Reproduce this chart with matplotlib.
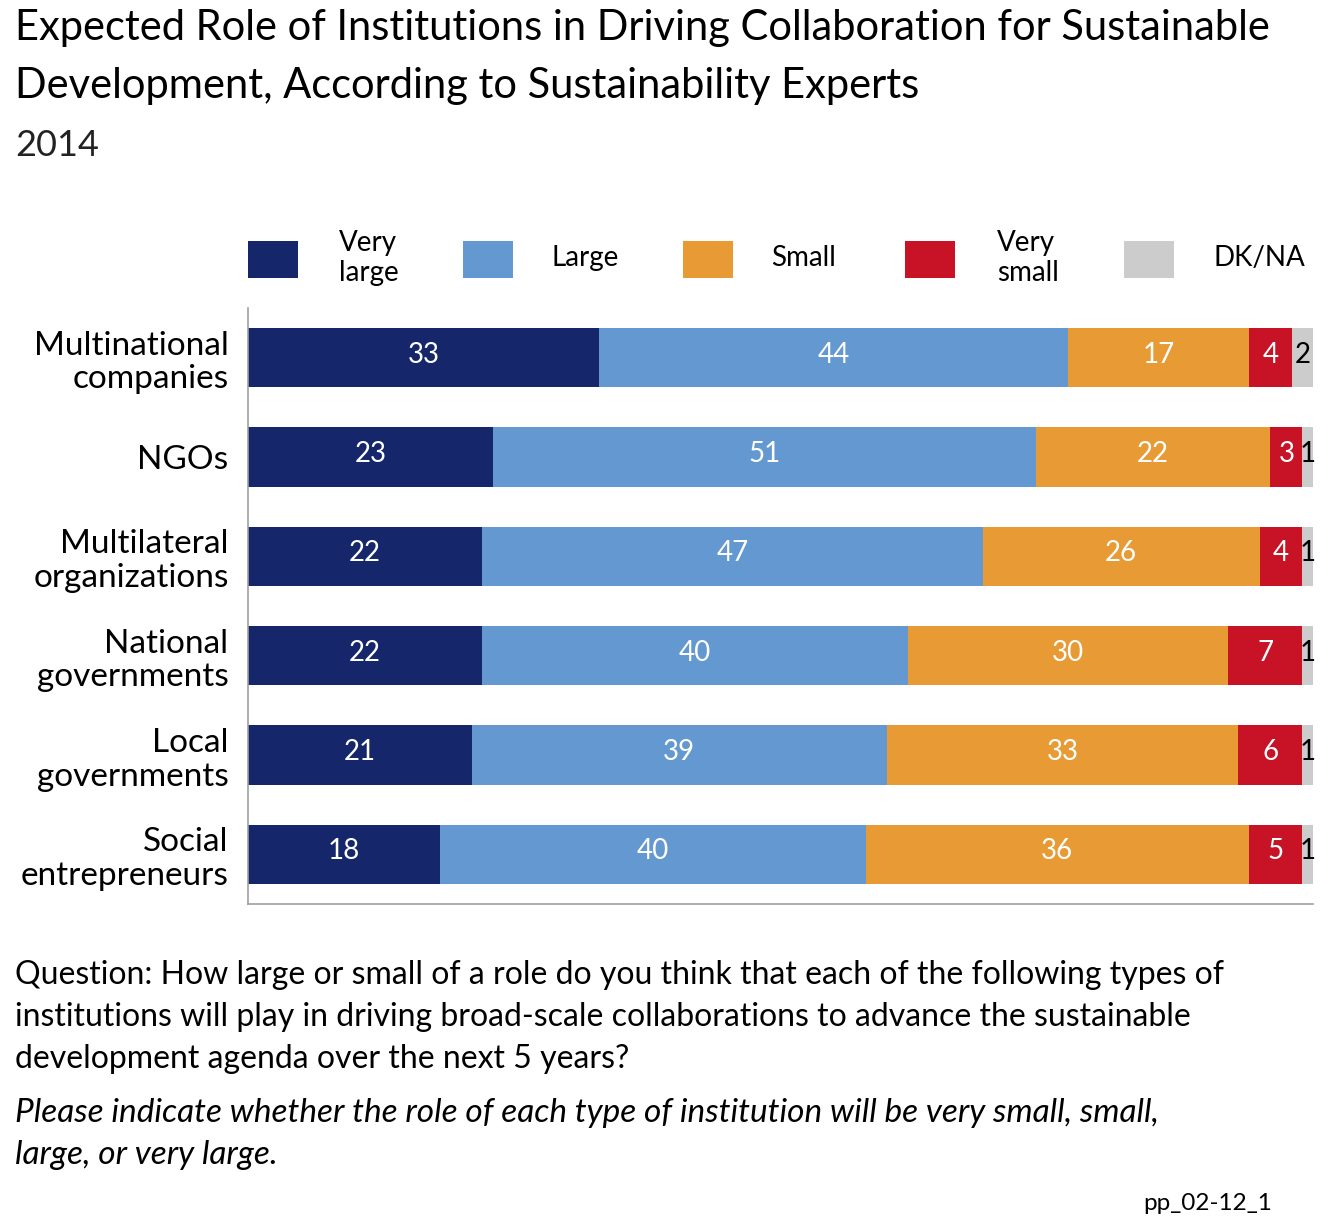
import matplotlib
matplotlib.use("Agg")
import matplotlib.pyplot as plt
from matplotlib.patches import Rectangle
import numpy as np

plt.rcParams['font.family'] = ['Lato', 'DejaVu Sans']

categories = ["Multinational\ncompanies", "NGOs", "Multilateral\norganizations",
              "National\ngovernments", "Local\ngovernments", "Social\nentrepreneurs"]
series_names = ["Very\nlarge", "Large", "Small", "Very\nsmall", "DK/NA"]
very_large = [33, 23, 22, 22, 21, 18]
large = [44, 51, 47, 40, 39, 40]
small = [17, 22, 26, 30, 33, 36]
very_small = [4, 3, 4, 7, 6, 5]
dk_na = [2, 1, 1, 1, 1, 1]
colors = ["#15266a", "#6399d0", "#e89b34", "#c81226", "#cccccc"]
text_colors = ["white", "white", "white", "white", "black"]

series = [very_large, large, small, very_small, dk_na]

title_lines = ["Expected Role of Institutions in Driving Collaboration for Sustainable",
               "Development, According to Sustainability Experts"]
question_lines = ["Question: How large or small of a role do you think that each of the following types of",
                  "institutions will play in driving broad-scale collaborations to advance the sustainable",
                  "development agenda over the next 5 years?"]
note_lines = ["Please indicate whether the role of each type of institution will be very small, small,",
              "large, or very large."]

W, H = 1340, 1223
fig = plt.figure(figsize=(13.4, 12.23), dpi=100)
ax = fig.add_axes([248 / W, 1 - 904 / H, 1065 / W, 596 / H])

y = np.arange(len(categories))
left = np.zeros(len(categories))
for vals, col, tcol in zip(series, colors, text_colors):
    vals = np.array(vals, dtype=float)
    ax.barh(y, vals, left=left, height=0.6, color=col, edgecolor='none')
    for yi, l, v in zip(y, left, vals):
        ax.text(l + v / 2, yi - 0.03, f"{int(v)}", ha='center', va='center',
                color=tcol, fontsize=20)
    left += vals

ax.set_xlim(0, 100)
ax.set_ylim(len(categories) - 0.5, -0.5)
ax.set_yticks(y)
ax.set_yticklabels(categories, fontsize=24, linespacing=1.15)
ax.tick_params(axis='y', length=0, pad=14)
ax.set_xticks([])
for s in ['top', 'right']:
    ax.spines[s].set_visible(False)
for s in ['left', 'bottom']:
    ax.spines[s].set_color('#a0a0a0')
    ax.spines[s].set_linewidth(1.2)

# legend drawn by hand
box_x = [248, 463, 683, 905, 1124]
lab_x = [339, 551, 771, 997, 1214]
for bx, lx, col, name in zip(box_x, lab_x, colors, series_names):
    fig.add_artist(Rectangle((bx / W, 1 - 278 / H), 50 / W, 37 / H,
                             transform=fig.transFigure, color=col, lw=0))
    fig.text(lx / W, 1 - 258 / H, name, ha='left', va='center',
             fontsize=20, linespacing=1.15)

for i, line in enumerate(title_lines):
    fig.text(15 / W, 1 - (28 + 58 * i) / H, line, ha='left', va='center',
             fontsize=30)
fig.text(15 / W, 1 - 146 / H, "2014", ha='left', va='center',
         fontsize=26, color='#222222')

for i, line in enumerate(question_lines):
    fig.text(15 / W, 1 - (975 + 42 * i) / H, line, ha='left', va='center',
             fontsize=23)
for i, line in enumerate(note_lines):
    fig.text(15 / W, 1 - (1113 + 42 * i) / H, line, ha='left', va='center',
             fontsize=24, style='italic')
fig.text(1272 / W, 1 - 1203 / H, "pp_02-12_1", ha='right', va='center',
         fontsize=17.5)

fig.savefig("out.png", dpi=100)
